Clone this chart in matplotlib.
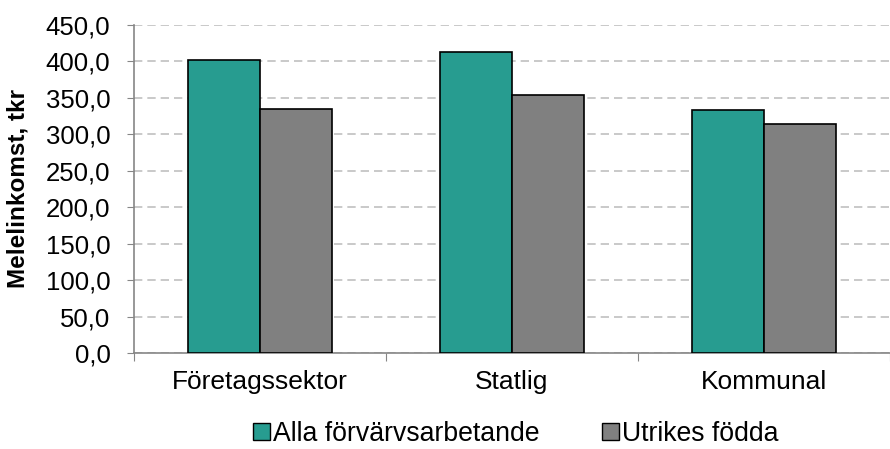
import matplotlib.pyplot as plt
import numpy as np
from matplotlib.ticker import FuncFormatter
from matplotlib.patches import Patch

plt.rcParams['font.family'] = ['Liberation Sans', 'DejaVu Sans']

categories = ["Företagssektor", "Statlig", "Kommunal"]
alla = [402.3, 413.6, 333.0]
utrikes = [335.0, 354.0, 313.6]
series_names = ["Alla förvärvsarbetande", "Utrikes födda"]

fig = plt.figure(figsize=(8.9, 4.49), dpi=100)
ax = fig.add_axes([134 / 890, 1 - 353 / 449, 756 / 890, 328 / 449])

x = np.arange(len(categories))
w = 0.287
ax.bar(x - w / 2, alla, w, color="#279C90", edgecolor="black", linewidth=1.2, zorder=3)
ax.bar(x + w / 2, utrikes, w, color="#808080", edgecolor="black", linewidth=1.2, zorder=3)

ax.set_xlim(-0.5, 2.47)
ax.set_ylim(0, 450)
ax.set_yticks(np.arange(0, 451, 50))
ax.yaxis.set_major_formatter(FuncFormatter(lambda v, p: f"{v:.1f}".replace(".", ",")))
ax.yaxis.grid(True, linestyle=(0, (5, 3)), color="#c0c0c0", linewidth=1.2, zorder=0)

# category ticks between groups, labels centred under each group
ax.set_xticks([-0.5, 0.5, 1.5, 2.5])
ax.set_xticklabels([])
ax.set_xticks(x, minor=True)
ax.set_xticklabels(categories, minor=True, fontsize=19)
ax.tick_params(axis="x", which="minor", length=0, pad=12)
ax.tick_params(axis="x", which="major", length=6, color="#868686", direction="out")
ax.tick_params(axis="y", length=5, color="#868686", labelsize=18.5, pad=12)

for s in ["top", "right"]:
    ax.spines[s].set_visible(False)
for s in ["left", "bottom"]:
    ax.spines[s].set_color("#868686")
    ax.spines[s].set_linewidth(1.2)

ax.set_ylabel("Melelinkomst, tkr", fontsize=17.5, fontweight="bold")
ax.yaxis.set_label_coords(-104 / 756, 0.5)

handles = [Patch(facecolor="#279C90", edgecolor="black"),
           Patch(facecolor="#808080", edgecolor="black")]
fig.legend(handles, series_names, loc="center", bbox_to_anchor=(516 / 890, 1 - 434 / 449),
           ncol=2, frameon=False, fontsize=19.2, handlelength=0.63, handleheight=0.63,
           handletextpad=0.12, columnspacing=2.35, borderpad=0)

fig.savefig("out.png", dpi=100)
